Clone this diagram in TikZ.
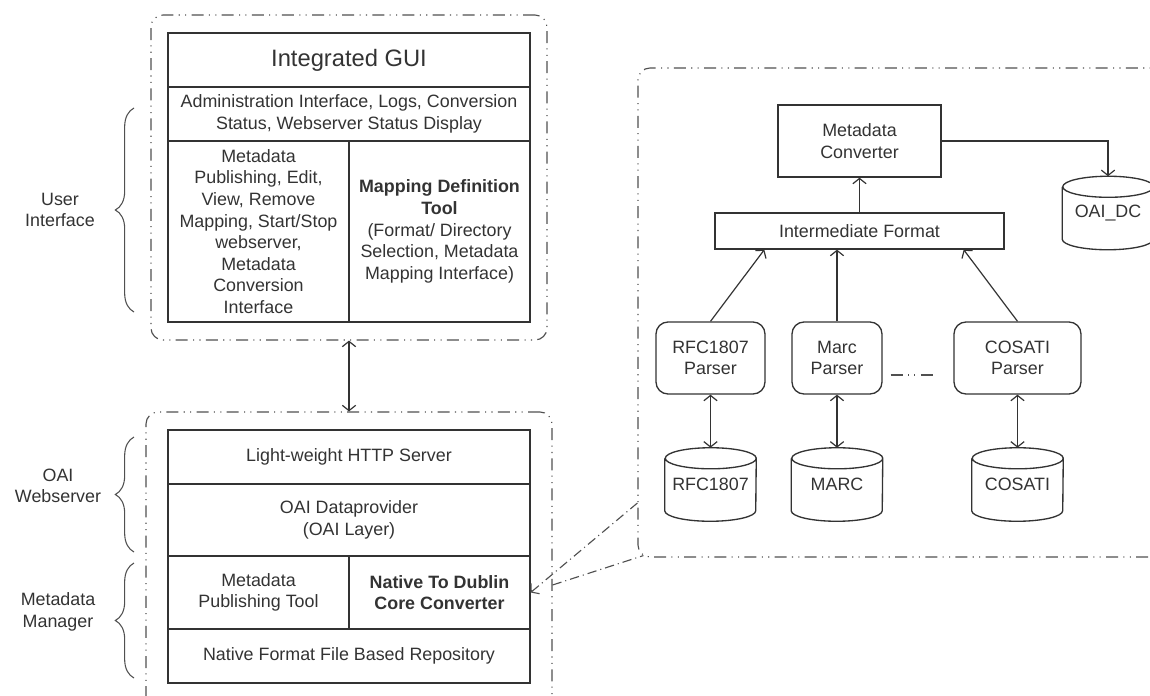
\documentclass[tikz,border=0pt]{standalone}
\usepackage{fontspec}
\setmainfont{Liberation Sans}
\usetikzlibrary{arrows.meta,decorations.pathreplacing}
\definecolor{inkgray}{HTML}{333333}
\definecolor{framegray}{HTML}{505050}
\begin{document}
\begin{tikzpicture}[x=0.75pt,y=-0.75pt,>={Straight Barb[length=4pt,width=10pt]}]
	\tikzstyle{every node}=[font=\fontsize{13.4}{16.2}\selectfont, text=inkgray, align=center, inner sep=0pt]
	\tikzstyle{cell}=[draw=inkgray, line width=1pt, rectangle]
	\tikzstyle{parser}=[draw=inkgray, line width=1pt, rectangle, rounded corners=9pt, minimum height=54pt]
	\tikzstyle{store}=[rectangle, minimum width=68.25pt, minimum height=54.75pt]
	\tikzstyle{dbline}=[draw=inkgray, line width=1pt]
	\tikzstyle{groupbox}=[draw=framegray, line width=0.85pt, rectangle, rounded corners=9pt, dash pattern=on 9pt off 4pt on 0.8pt off 4pt on 0.8pt off 4pt]
	\tikzstyle{arr}=[draw=inkgray, line width=0.9pt, ->]
	\tikzstyle{dblarr}=[draw=inkgray, line width=0.9pt, <->]
	\tikzstyle{zoomline}=[draw=framegray, line width=0.85pt, dash pattern=on 7pt off 3pt on 0.8pt off 3pt]
	\tikzstyle{bracedeco}=[draw=framegray, line width=0.8pt, decorate, decoration={brace, amplitude=14pt}]

	\path[use as bounding box, clip] (0,0) rectangle (1150,696);

	\node[groupbox, minimum width=297pt, minimum height=243.75pt] (uigroup) at (349,177.5) {};
	\node[cell, minimum width=271.5pt, minimum height=40.5pt, font=\fontsize{17.8}{21}\selectfont] (gui) at (349,60) {Integrated GUI};
	\node[cell, minimum width=271.5pt, minimum height=40.5pt] (admin) at (349,114) {Administration Interface, Logs, Conversion\\Status, Webserver Status Display};
	\node[cell, minimum width=135.75pt, minimum height=135.75pt] (uileft) at (258.5,231.5) {Metadata\\Publishing, Edit,\\View, Remove\\Mapping, Start/Stop\\webserver,\\Metadata\\Conversion\\Interface};
	\node[cell, minimum width=135.75pt, minimum height=135.75pt] (uiright) at (439.5,231.5) {\textbf{Mapping Definition}\\\textbf{Tool}\\(Format/ Directory\\Selection, Metadata\\Mapping Interface)};

	\node[groupbox, minimum width=304.5pt, minimum height=225pt] (srvgroup) at (349,562) {};
	\node[cell, minimum width=271.5pt, minimum height=40.5pt] (http) at (349,457) {Light-weight HTTP Server};
	\node[cell, minimum width=271.5pt, minimum height=54pt] (oaidp) at (349,520) {OAI Dataprovider\\(OAI Layer)};
	\node[cell, minimum width=135.75pt, minimum height=54.75pt] (pubtool) at (258.5,592.5) {Metadata\\Publishing Tool};
	\node[cell, minimum width=135.75pt, minimum height=54.75pt] (dcconv) at (439.5,592.5) {\textbf{Native To Dublin}\\\textbf{Core Converter}};
	\node[cell, minimum width=271.5pt, minimum height=40.5pt] (repo) at (349,656) {Native Format File Based Repository};

	\node[groupbox, minimum width=406.5pt, minimum height=366.75pt] (convgroup) at (909,312.5) {};
	\node[cell, minimum width=122.25pt, minimum height=54pt] (conv) at (859.5,141) {Metadata\\Converter};
	\node[cell, minimum width=216.75pt, minimum height=27pt] (inter) at (859.5,231) {Intermediate Format};
	\node[parser, minimum width=81.75pt] (rfcp) at (710.5,358) {RFC1807\\Parser};
	\node[parser, minimum width=67.5pt] (marcp) at (837,358) {Marc\\Parser};
	\node[parser, minimum width=95.25pt] (cosp) at (1017.5,358) {COSATI\\Parser};
	\node[store] (oaidc) at (1108,213) {OAI\_DC};
	\node[store] (rfcdb) at (710.5,484.5) {RFC1807};
	\node[store] (marcdb) at (837,484.5) {MARC};
	\node[store] (cosdb) at (1017.5,484.5) {COSATI};

	\draw[dbline] ([yshift=-7.9pt]oaidc.north west) -- ([yshift=7.9pt]oaidc.south west) arc[start angle=180, end angle=360, x radius=34.125pt, y radius=7.9pt] -- ([yshift=-7.9pt]oaidc.north east) arc[start angle=0, end angle=360, x radius=34.125pt, y radius=7.9pt];
	\draw[dbline] ([yshift=-7.9pt]rfcdb.north west) -- ([yshift=7.9pt]rfcdb.south west) arc[start angle=180, end angle=360, x radius=34.125pt, y radius=7.9pt] -- ([yshift=-7.9pt]rfcdb.north east) arc[start angle=0, end angle=360, x radius=34.125pt, y radius=7.9pt];
	\draw[dbline] ([yshift=-7.9pt]marcdb.north west) -- ([yshift=7.9pt]marcdb.south west) arc[start angle=180, end angle=360, x radius=34.125pt, y radius=7.9pt] -- ([yshift=-7.9pt]marcdb.north east) arc[start angle=0, end angle=360, x radius=34.125pt, y radius=7.9pt];
	\draw[dbline] ([yshift=-7.9pt]cosdb.north west) -- ([yshift=7.9pt]cosdb.south west) arc[start angle=180, end angle=360, x radius=34.125pt, y radius=7.9pt] -- ([yshift=-7.9pt]cosdb.north east) arc[start angle=0, end angle=360, x radius=34.125pt, y radius=7.9pt];

	\draw[dblarr] (uigroup.south) -- (srvgroup.north);
	\draw[arr] (inter.north) -- (conv.south);
	\draw[arr] (conv.east) -| (oaidc.north);
	\draw[arr] (rfcp.north) -- ([xshift=37.5pt]inter.south west);
	\draw[arr] (marcp.north) -- (marcp.north |- inter.south);
	\draw[arr] (cosp.north) -- ([xshift=-30.75pt]inter.south east);
	\draw[dblarr] (rfcp.south) -- (rfcdb.north);
	\draw[dblarr] (marcp.south) -- (marcdb.north);
	\draw[dblarr] (cosp.south) -- (cosdb.north);
	\draw[groupbox, rounded corners=0pt] ([shift={(8,17)}]marcp.east) -- ([shift={(-17,17)}]cosp.west);
	\draw[zoomline, <-] (dcconv.east) -- ([shift={(0,190.5)}]convgroup.west);
	\draw[zoomline] ([shift={(0,23)}]srvgroup.east) -- ([shift={(6,-2)}]convgroup.south west);

	\draw[bracedeco] (134,312) -- (134,108);
	\draw[bracedeco] (134,552) -- (134,437);
	\draw[bracedeco] (134,678) -- (134,563);
	\node (uilabel) at (60,210) {User\\Interface};
	\node (wslabel) at (58,486) {OAI\\Webserver};
	\node (mmlabel) at (58,612) {Metadata\\Manager};
\end{tikzpicture}
\end{document}
